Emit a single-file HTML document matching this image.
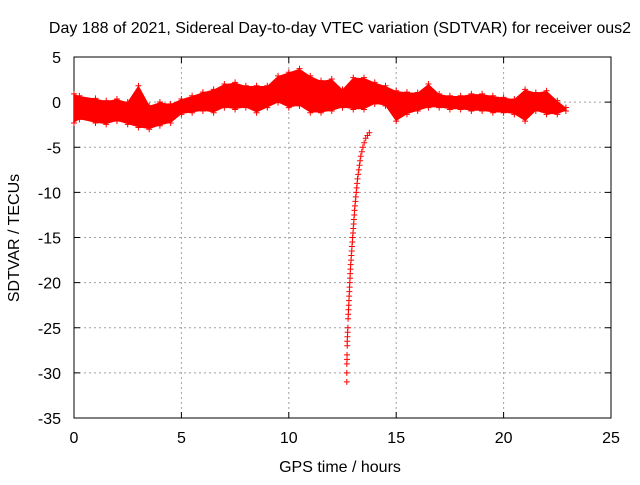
<!DOCTYPE html>
<html><head><meta charset="utf-8"><style>
body{margin:0;background:#fff}
svg{font-family:"Liberation Sans",sans-serif;font-size:16px}
</style></head><body>
<svg width="640" height="480" xmlns="http://www.w3.org/2000/svg">
<rect width="640" height="480" fill="#fff"/>
<g id="grid"></g>
<g id="axes"></g>
<g id="marks"></g>
<text x="340" y="33" text-anchor="middle">Day 188 of 2021, Sidereal Day-to-day VTEC variation (SDTVAR) for receiver ous2</text>
<text x="340" y="472" text-anchor="middle">GPS time / hours</text>
<text transform="translate(19,238) rotate(-90)" text-anchor="middle">SDTVAR / TECUs</text>
</svg>
<script>
const xTicks=[0,5,10,15,20,25];
const yTicks=[5,0,-5,-10,-15,-20,-25,-30,-35];
const bandTimes=[0,0.25,1,1.5,2,2.5,3,3.5,4,4.5,5,5.5,6,6.5,7,7.5,8,8.5,9,9.5,10,10.5,11,11.5,12,12.5,13,13.5,14,14.5,15,15.5,16,16.5,17,17.5,18,18.5,19,19.5,20,20.5,21,21.5,22,22.5,22.9];
const bandUpper=[0.8,0.6,0.3,0.05,0.24,-0.1,1.7,-0.5,-0.1,-0.3,0.24,0.6,1.0,1.3,1.9,2.08,1.7,1.7,1.7,2.8,3.2,3.6,2.8,2.27,2.45,1.3,2.6,2.6,2.08,1.7,1.15,1.0,0.96,1.9,0.8,0.6,0.6,0.8,0.8,0.6,0.42,0.24,1.3,0.96,1.15,0.05,-0.7];
const bandLower=[-2.2,-1.8,-2.2,-2.35,-2.0,-2.35,-2.7,-2.9,-2.5,-2.2,-1.24,-1.06,-0.87,-1.06,-0.5,-0.7,-0.5,-1.06,-0.5,0.05,-0.5,-0.3,-1.06,-1.06,-0.87,-0.5,-0.7,-0.7,-0.1,-0.3,-2.0,-1.24,-0.87,-0.5,-0.5,-0.7,-0.7,-0.87,-0.87,-1.06,-1.06,-1.24,-2.0,-0.87,-1.24,-1.24,-0.87];
const dropTimes=[12.70,12.70,12.70,12.71,12.71,12.72,12.72,12.73,12.74,12.75,12.76,12.77,12.78,12.79,12.80,12.81,12.82,12.83,12.84,12.85,12.86,12.87,12.88,12.90,12.91,12.93,12.94,12.96,12.97,12.99,13.0,13.02,13.03,13.05,13.06,13.08,13.1,13.12,13.14,13.16,13.18,13.2,13.23,13.26,13.29,13.32,13.35,13.4,13.45,13.51,13.58,13.66,13.75];
const dropValues=[-31,-30,-29,-28.5,-28,-27,-26.5,-26,-25.5,-25,-24,-23.5,-23,-22.5,-22,-21.5,-21,-20.5,-20,-19.5,-19,-18.5,-18,-17.5,-17,-16.5,-16,-15.5,-15,-14.5,-14,-13.5,-13,-12.5,-12,-11.5,-11,-10.5,-10,-9.5,-9,-8.5,-8,-7.5,-7,-6.5,-6,-5.5,-5,-4.5,-4,-3.7,-3.4];
const X=t=>74+t*(611-74)/25;
const Y=v=>57+(5-v)*(418-57)/40;
const NS="http://www.w3.org/2000/svg";
function mk(tag,parent,attrs){const e=document.createElementNS(NS,tag);for(const k in attrs)e.setAttribute(k,attrs[k]);parent.appendChild(e);return e;}
const grid=document.getElementById('grid'),axes=document.getElementById('axes'),marks=document.getElementById('marks');
mk('rect',axes,{x:74,y:57,width:537,height:361,fill:'none',stroke:'#000','stroke-width':1});
xTicks.forEach(t=>{
 if(t>0&&t<25){const g=mk('line',grid,{x1:X(t),x2:X(t),y1:57,y2:418,stroke:'#a0a0a0','stroke-dasharray':'2,3'});}
 mk('line',axes,{x1:X(t),x2:X(t),y1:418,y2:412,stroke:'#000'});mk('line',axes,{x1:X(t),x2:X(t),y1:57,y2:63,stroke:'#000'});
 const l=mk('text',axes,{x:X(t),y:443,'text-anchor':'middle'});l.textContent=t;
 
});
yTicks.forEach(v=>{
 if(v<5&&v>-35){const g=mk('line',grid,{x1:74,x2:611,y1:Y(v),y2:Y(v),stroke:'#a0a0a0','stroke-dasharray':'2,3'});}
 mk('line',axes,{x1:74,x2:80,y1:Y(v),y2:Y(v),stroke:'#000'});mk('line',axes,{x1:605,x2:611,y1:Y(v),y2:Y(v),stroke:'#000'});
 const l=mk('text',axes,{x:61,y:Y(v)+6,'text-anchor':'end'});l.textContent=v;
 
});
let pts=bandTimes.map((t,i)=>X(t)+','+Y(bandUpper[i]));
for(let i=bandTimes.length-1;i>=0;i--)pts.push(X(bandTimes[i])+','+Y(bandLower[i]));
const band=mk('polygon',marks,{points:pts.join(' '),fill:'#f00',stroke:'#f00','stroke-width':1.5,'stroke-linejoin':'round'});


function plus(x,y){mk('path',marks,{d:`M${x-3} ${y}h6M${x} ${y-3}v6`,stroke:'#f00','stroke-width':1});}
bandTimes.forEach((t,i)=>{plus(X(t),Y(bandUpper[i])-1);plus(X(t),Y(bandLower[i])+1);});
dropTimes.forEach((t,i)=>{
 const p=mk('path',marks,{d:`M${X(t)-3} ${Y(dropValues[i])}h6M${X(t)} ${Y(dropValues[i])-3}v6`,stroke:'#f00','stroke-width':1});
 
 
});
</script>
</body></html>
